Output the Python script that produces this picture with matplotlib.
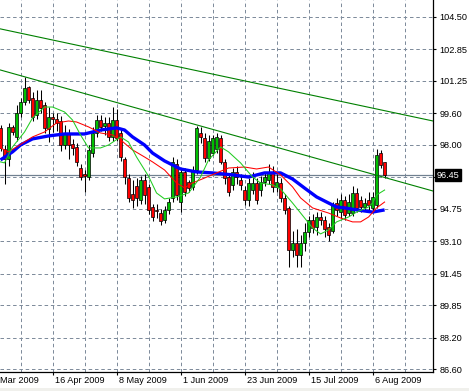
import matplotlib
matplotlib.use("Agg")
import matplotlib.pyplot as plt
import matplotlib.transforms as mtransforms
from matplotlib.patches import Rectangle

# ---- daily candles (bar index 0 = 27 Mar 2009 ... 96 = 11 Aug 2009)
opens = [98.85, 97.80, 97.30, 98.90, 98.40, 99.60, 100.20, 100.95, 100.40, 99.50,
         100.30, 100.00, 98.80, 99.40, 99.30, 99.20, 98.00, 98.60, 98.05, 97.90,
         96.80, 96.50, 96.35, 97.60, 98.60, 99.25, 98.95, 99.10, 98.40, 99.25,
         98.60, 97.30, 96.30, 95.50, 95.90, 95.20, 96.20, 95.85, 94.85, 94.70,
         94.55, 94.20, 94.70, 95.30, 97.00, 95.10, 96.60, 96.10, 95.85, 96.70,
         98.60, 98.35, 97.35, 97.60, 97.80, 98.35, 97.10, 96.35, 95.95, 96.60,
         96.20, 95.70, 95.20, 95.70, 96.05, 95.70, 96.10, 96.20, 96.55, 95.85,
         96.05, 95.30, 94.80, 92.65, 93.00, 92.40, 93.00, 93.55, 94.20, 93.80,
         94.35, 94.20, 93.80, 93.60, 95.05, 94.60, 95.20, 94.55, 94.55, 95.55,
         95.20, 94.85, 95.20, 94.80, 94.95, 97.60, 97.10]
highs = [99.00, 98.00, 99.10, 99.00, 100.00, 100.40, 101.45, 101.00, 100.70, 100.80,
         100.80, 100.20, 99.90, 99.60, 99.60, 99.45, 99.00, 98.80, 98.30, 98.10,
         97.00, 96.70, 98.00, 98.90, 99.50, 99.50, 99.40, 99.40, 99.90, 99.80,
         98.80, 97.40, 96.50, 96.20, 96.30, 96.40, 96.50, 96.00, 95.00, 95.00,
         94.75, 94.90, 95.30, 97.40, 97.30, 96.80, 96.80, 96.20, 96.90, 98.95,
         98.90, 98.60, 98.50, 98.50, 98.60, 98.50, 97.30, 96.50, 96.80, 96.90,
         96.50, 95.90, 96.30, 96.60, 96.30, 96.40, 96.60, 97.00, 96.90, 96.50,
         96.30, 95.50, 94.90, 93.60, 93.70, 93.40, 94.00, 94.40, 94.50, 94.60,
         94.60, 94.40, 94.00, 95.10, 95.30, 95.50, 95.40, 95.50, 95.90, 95.80,
         95.40, 95.30, 95.60, 95.60, 97.80, 97.75, 97.15]
lows = [97.70, 96.00, 96.90, 98.50, 98.20, 99.40, 100.00, 100.10, 99.20, 99.30,
        99.60, 98.60, 98.15, 98.65, 98.70, 97.70, 97.80, 97.30, 97.50, 96.90,
        96.20, 95.60, 96.20, 97.40, 98.40, 98.70, 98.50, 98.20, 98.20, 98.20,
        97.20, 96.00, 95.10, 94.80, 94.90, 95.00, 95.00, 94.50, 94.15, 94.30,
        93.90, 94.00, 94.50, 95.10, 95.20, 94.60, 95.40, 95.60, 95.70, 96.50,
        98.10, 97.10, 97.20, 97.50, 97.60, 97.00, 96.00, 95.40, 95.70, 96.00,
        95.70, 94.95, 94.90, 95.50, 95.00, 95.40, 95.90, 96.00, 95.60, 95.60,
        95.10, 94.50, 91.80, 92.30, 91.80, 91.80, 92.60, 93.30, 93.50, 93.40,
        93.90, 93.30, 93.10, 93.50, 94.40, 94.30, 94.20, 94.40, 94.40, 94.60,
        94.60, 94.70, 94.70, 94.60, 94.80, 96.80, 96.30]
closes = [97.85, 97.30, 98.90, 98.65, 99.60, 100.20, 100.90, 100.30, 99.40, 100.30,
          99.85, 98.85, 99.40, 99.30, 99.10, 98.00, 98.60, 98.00, 97.85, 97.10,
          96.35, 96.40, 97.75, 98.60, 99.25, 98.90, 99.10, 98.40, 99.25, 98.35,
          97.40, 96.35, 95.30, 95.20, 95.30, 96.20, 95.45, 94.70, 94.35, 94.65,
          94.15, 94.70, 95.10, 97.10, 95.45, 96.60, 95.60, 95.80, 96.70, 98.85,
          98.40, 97.35, 98.20, 98.35, 98.40, 97.10, 96.30, 95.60, 96.60, 96.35,
          95.95, 95.20, 96.05, 96.05, 95.20, 96.10, 96.35, 96.55, 95.85, 96.10,
          95.30, 94.70, 92.65, 93.00, 92.40, 93.00, 93.55, 94.20, 93.75, 94.35,
          94.20, 93.70, 93.40, 94.95, 94.70, 95.20, 94.45, 95.10, 95.55, 94.80,
          94.85, 95.05, 94.95, 95.35, 97.50, 96.95, 96.45]

# ---- moving averages (bar index, price)
blue_x = [0, 3, 5, 8, 12, 16, 21, 23, 25, 29, 31, 33, 36, 38, 41, 45, 49, 53, 58,
          62, 66, 70, 73, 76, 79, 82, 84, 86, 89, 93, 96]
blue_y = [97.23, 97.64, 97.99, 98.30, 98.45, 98.55, 98.55, 98.65, 98.75, 98.86,
          98.75, 98.40, 97.99, 97.58, 97.18, 96.77, 96.62, 96.57, 96.47, 96.36,
          96.57, 96.57, 96.26, 95.80, 95.35, 95.04, 94.84, 94.79, 94.69, 94.58, 94.69]
red_x = [0, 2, 4, 8, 11, 14, 17, 19, 22, 25, 28, 30, 33, 36, 38, 41, 44, 46, 48,
         51, 54, 57, 61, 64, 67, 70, 73, 75, 78, 82, 85, 88, 90, 92, 94, 96]
red_y = [97.84, 97.64, 97.89, 98.40, 98.65, 99.11, 99.21, 99.16, 98.91, 98.60,
         98.50, 98.25, 97.74, 97.38, 97.13, 96.72, 96.06, 95.81, 96.06, 96.31,
         96.57, 96.82, 96.87, 96.77, 96.87, 96.47, 95.86, 95.30, 94.79, 94.53,
         94.28, 94.08, 94.08, 94.33, 94.79, 95.09]
green_x = [0, 1, 3, 6, 8, 11, 13, 16, 18, 20, 22, 25, 27, 30, 32, 34, 37, 39, 41,
           44, 47, 50, 52, 55, 57, 60, 63, 65, 68, 70, 73, 76, 78, 80, 82, 84, 87,
           89, 92, 93, 94, 96]
green_y = [97.13, 97.08, 97.89, 98.65, 99.36, 99.92, 99.92, 99.67, 99.26, 98.50,
           97.84, 97.84, 97.99, 98.40, 98.14, 97.38, 96.40, 95.55, 95.25, 95.35,
           95.55, 96.36, 97.23, 97.89, 97.64, 97.08, 96.36, 96.06, 95.96, 95.75,
           95.04, 94.28, 93.77, 93.47, 93.67, 94.08, 94.33, 94.58, 94.84, 95.04,
           95.45, 95.70]

# ---- trend lines (start / end of the visible window)
upper_line = ([0, 108.1], [103.89, 99.21])
lower_line = ([0, 108.1], [101.80, 95.65])
last_price = 96.45

# ---- axes labels
y_ticks = [86.60, 88.20, 89.85, 91.45, 93.10, 94.75, 96.35, 98.00, 99.60, 101.25, 102.85, 104.50]
y_labels = ["86.60", "88.20", "89.85", "91.45", "93.10", "94.75", "", "98.00", "99.60",
            "101.25", "102.85", "104.50"]
date_pos = [13, 29, 45, 61, 77, 93]
date_labels = ["16 Apr 2009", "8 May 2009", "1 Jun 2009",
               "23 Jun 2009", "15 Jul 2009", "6 Aug 2009"]
first_label = "Mar 2009"   # left edge, day part falls outside the window
grid_x = list(range(5, 106, 8))

font = "Liberation Sans"
fs = 6.6
grid_col = "#7f8c9c"

fig = plt.figure(figsize=(4.69, 3.91), dpi=100)
fig.patch.set_facecolor("white")
ax = fig.add_axes([0, 19 / 391, 433 / 469, 372 / 391])

# candles
for i in range(len(opens)):
    o, h, l, c = opens[i], highs[i], lows[i], closes[i]
    ax.vlines(i, l, h, color="black", lw=0.75, zorder=3)
    col = "#00c000" if c >= o else "#ff0000"
    bot = min(o, c)
    ht = max(abs(c - o), 0.04)
    ax.add_patch(Rectangle((i - 0.34, bot), 0.68, ht, facecolor=col,
                           edgecolor="black", lw=0.5, zorder=4))

# indicators
ax.plot(blue_x, blue_y, color="#0000ff", lw=2.4, zorder=5, solid_capstyle="butt")
ax.plot(red_x, red_y, color="#ff0000", lw=0.75, zorder=6)
ax.plot(green_x, green_y, color="#22cc22", lw=0.75, zorder=6)
ax.plot(*upper_line, color="#008000", lw=0.8, zorder=6)
ax.plot(*lower_line, color="#008000", lw=0.8, zorder=6)
ax.axhline(last_price, color="#708090", lw=0.9, zorder=2)

ax.set_xlim(-0.125, 108.1)
ax.set_ylim(86.45, 105.36)

# grid
for gx in grid_x:
    ax.axvline(gx, color=grid_col, lw=0.72, dashes=(3.5, 2.8), zorder=1)
for gy in y_ticks:
    ax.axhline(gy, color=grid_col, lw=0.72, dashes=(3.5, 2.8), zorder=1)

# spines and ticks
ax.spines["left"].set_visible(False)
ax.spines["top"].set_visible(False)
ax.spines["right"].set_linewidth(0.9)
ax.spines["bottom"].set_linewidth(0.9)
ax.yaxis.tick_right()
ax.set_yticks(y_ticks)
ax.set_yticklabels(y_labels, fontfamily=font, fontsize=fs)
ax.tick_params(axis="y", length=2.5, width=0.8, pad=2)
ax.set_xticks(date_pos)
ax.set_xticklabels([])
ax.tick_params(axis="x", length=2.5, width=0.8)

trans = mtransforms.blended_transform_factory(ax.transData, ax.transAxes)
for p, lab in zip(date_pos, date_labels):
    ax.text(p + 0.5, -0.012, lab, transform=trans, ha="left", va="top",
            fontfamily=font, fontsize=fs, clip_on=False)
ax.text(0.0, -0.012, first_label, transform=ax.transAxes, ha="left", va="top",
        fontfamily=font, fontsize=fs, clip_on=False)

trans_y = mtransforms.blended_transform_factory(ax.transAxes, ax.transData)
ax.text(1.008, last_price, "96.45", transform=trans_y, ha="left", va="center",
        color="white", fontfamily=font, fontsize=fs, clip_on=False,
        bbox=dict(facecolor="black", edgecolor="black", pad=1.2))

fig.patches.append(Rectangle((0, 0), 1, 3 / 391, transform=fig.transFigure,
                             facecolor="#f0f0ec", edgecolor="none"))

fig.savefig("out.png", dpi=100)
